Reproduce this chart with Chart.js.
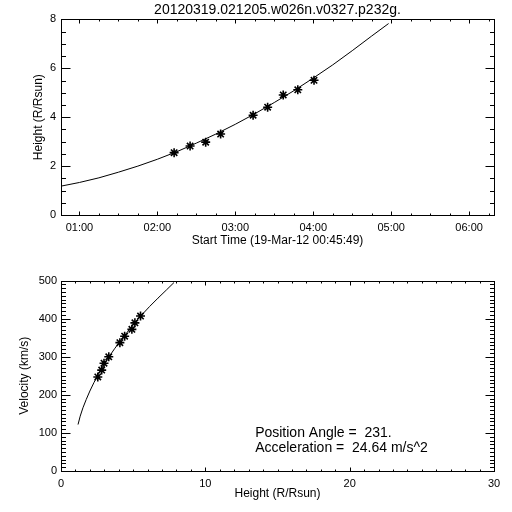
<!DOCTYPE html>
<html><head><meta charset="utf-8">
<script src="https://cdn.jsdelivr.net/npm/chart.js@4.4.1/dist/chart.umd.min.js"></script>
<style>
html,body{margin:0;padding:0;background:#fff;width:512px;height:512px;overflow:hidden}
canvas{position:absolute;left:0}
#c1{top:0}
#c2{top:270px}
</style></head>
<body>
<canvas id="c1" width="512" height="270"></canvas>
<canvas id="c2" width="512" height="242"></canvas>
<script>
// ---- data ----
const titleText = '20120319.021205.w026n.v0327.p232g.';
const startLabel = 'Start Time (19-Mar-12 00:45:49)';
const heightLabel = 'Height (R/Rsun)';
const velocityLabel = 'Velocity (km/s)';
const positionAngle = '231.';
const acceleration = '24.64';

// observation times in minutes after 00:00 on 19-Mar-12
const obsMinutes = [132.9, 145.2, 157.2, 168.7, 193.7, 204.9, 216.9, 228.1, 240.6];
const obsHeights = [2.55, 2.82, 2.98, 3.31, 4.08, 4.41, 4.91, 5.12, 5.51];
const obsVelocities = [247, 265, 283, 300, 337, 354, 372, 389, 407];

// fitted curve
const fitMinutes = [45.8, 60, 75, 90, 105, 120, 135, 150, 165, 180, 195, 210, 225, 240, 255, 270, 285, 298];
const fitHeights = [1.18, 1.33, 1.52, 1.75, 2.00, 2.28, 2.59, 2.94, 3.31, 3.71, 4.14, 4.60, 5.08, 5.60, 6.14, 6.72, 7.32, 7.83];
const fitVelocities = [122, 144, 166, 188, 210, 232, 255, 277, 299, 321, 343, 365, 388, 410, 432, 454, 476, 495];

// axes
const timeMin = 45.82, timeMax = 379.15;
const timeTicks = [60, 120, 180, 240, 300, 360];
const heightTicks = [0, 2, 4, 6, 8];
const velocityTicks = [0, 100, 200, 300, 400, 500];
const heightAxisTicks = [0, 10, 20, 30];

const FONT = "'Liberation Sans', Arial, sans-serif";

function fmtTime(v){
  const h = Math.floor(v/60), m = Math.round(v - h*60);
  return String(h).padStart(2,'0') + ':' + String(m).padStart(2,'0');
}

const idlFrame = {
  id: 'idlFrame',
  afterDraw(chart, args, o){
    const {ctx, chartArea:a, scales:{x, y}} = chart;
    ctx.save();
    ctx.strokeStyle = '#000'; ctx.lineWidth = 1;
    const L = Math.round(a.left)+0.5, R = Math.round(a.right)+0.5, T = Math.round(a.top)+0.5, B = Math.round(a.bottom)+0.5;
    ctx.strokeRect(L, T, R-L, B-T);
    const line = (x1,y1,x2,y2)=>{ctx.beginPath();ctx.moveTo(x1,y1);ctx.lineTo(x2,y2);ctx.stroke();};
    let k0 = Math.ceil(x.min/o.xMinor - 1e-9), k1 = Math.floor(x.max/o.xMinor + 1e-9);
    const xr = Math.round(o.xMajor/o.xMinor);
    for (let k=k0;k<=k1;k++){
      const v = k*o.xMinor;
      const major = (k % xr) === 0;
      const len = major ? o.xMajorLen : o.xMinorLen;
      const px = Math.round(x.getPixelForValue(v))+0.5;
      line(px, B, px, B-len); line(px, T, px, T+len);
    }
    k0 = Math.ceil(y.min/o.yMinor - 1e-9); k1 = Math.floor(y.max/o.yMinor + 1e-9);
    const yr = Math.round(o.yMajor/o.yMinor);
    for (let k=k0;k<=k1;k++){
      const v = k*o.yMinor;
      const major = (k % yr) === 0;
      const len = major ? o.yMajorLen : o.yMinorLen;
      const py = Math.round(y.getPixelForValue(v))+0.5;
      line(L, py, L+len, py); line(R, py, R-len, py);
    }
    ctx.fillStyle = '#000';
    if (o.title){
      ctx.font = '14px ' + FONT;
      ctx.textAlign = 'center'; ctx.textBaseline = 'middle';
      ctx.fillText(o.title, (a.left+a.right)/2, 10);
    }
    if (o.notes){
      ctx.font = '14px ' + FONT;
      ctx.textAlign = 'left'; ctx.textBaseline = 'middle';
      o.notes.forEach(n => ctx.fillText(n.text, x.getPixelForValue(n.x), y.getPixelForValue(n.y)));
    }
    ctx.restore();
  }
};

function axisCommon(){
  return {
    type: 'linear',
    grid: {display:false, drawTicks:false},
    border: {display:false},
  };
}

function makeChart(el, cfg){
  return new Chart(document.getElementById(el), {
    type: 'scatter',
    data: {datasets: [
      {data: cfg.fit, showLine: true, borderColor:'#000', borderWidth:1, pointRadius:0, tension:0},
      {data: cfg.obs, showLine: false, pointStyle:'star', pointRadius:4.5, borderColor:'#000', backgroundColor:'#000', borderWidth:1.6}
    ]},
    options: {
      responsive:false, animation:false, devicePixelRatio:1,
      layout: {padding: cfg.padding},
      plugins: {legend:{display:false}, tooltip:{enabled:false}, idlFrame: cfg.frame},
      scales: {
        x: Object.assign(axisCommon(), {
          min: cfg.xMin, max: cfg.xMax,
          afterBuildTicks: s => { s.ticks = cfg.xTicks.map(v => ({value:v})); },
          afterFit: s => { s.height = cfg.xHeight; },
          ticks: {color:'#000', font:{family:FONT, size:11}, padding:cfg.xTickPad, maxRotation:0, autoSkip:false, callback: cfg.xFmt},
          title: {display:true, text:cfg.xTitle, color:'#000', font:{family:FONT, size:12}, padding:{top:0, bottom:cfg.xTitlePad}}
        }),
        y: Object.assign(axisCommon(), {
          min: cfg.yMin, max: cfg.yMax,
          afterBuildTicks: s => { s.ticks = cfg.yTicks.map(v => ({value:v})); },
          afterFit: s => { s.width = 61; },
          ticks: {color:'#000', font:{family:FONT, size:11}, padding:cfg.yTickPad, autoSkip:false, callback: v => String(v)},
          title: {display:true, text:cfg.yTitle, color:'#000', font:{family:FONT, size:12}, padding:{top:cfg.yTitlePad, bottom:0}}
        })
      }
    },
    plugins: [idlFrame]
  });
}

makeChart('c1', {
  fit: fitMinutes.map((t,i)=>({x:t, y:fitHeights[i]})),
  obs: obsMinutes.map((t,i)=>({x:t, y:obsHeights[i]})),
  padding: {top:19.4, right:18, left:0, bottom:0},
  xMin: timeMin, xMax: timeMax, xTicks: timeTicks, xFmt: v => fmtTime(v),
  xHeight: 55, xTickPad: 6, xTitle: startLabel, xTitlePad: 22,
  yMin: 0, yMax: 8, yTicks: heightTicks, yTickPad: 5, yTitle: heightLabel, yTitlePad: 31.8,
  frame: {xMajor:60, xMinor:15, xMajorLen:4, xMinorLen:2, yMajor:2, yMinor:0.5, yMajorLen:9, yMinorLen:4.5, title:titleText}
});

makeChart('c2', {
  fit: fitHeights.map((h,i)=>({x:h, y:fitVelocities[i]})),
  obs: obsHeights.map((h,i)=>({x:h, y:obsVelocities[i]})),
  padding: {top:5, right:18, left:0, bottom:0},
  xMin: 0, xMax: 30, xTicks: heightAxisTicks, xFmt: v => String(v),
  xHeight: 41, xTickPad: 6, xTitle: heightLabel, xTitlePad: 11.5,
  yMin: 0, yMax: 500, yTicks: velocityTicks, yTickPad: 4, yTitle: velocityLabel, yTitlePad: 17.8,
  frame: {xMajor:10, xMinor:1, xMajorLen:4, xMinorLen:2, yMajor:100, yMinor:10, yMajorLen:9, yMinorLen:4.5,
    notes: [
      {x:13.45, y:100, text:'Position Angle =  ' + positionAngle},
      {x:13.45, y:59, text:'Acceleration =  ' + acceleration + ' m/s^2'}
    ]}
});
</script>
</body></html>
